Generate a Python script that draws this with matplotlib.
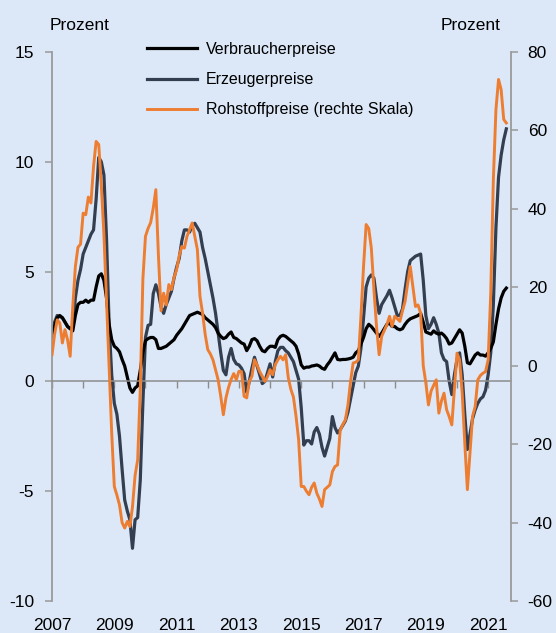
import numpy as np
import matplotlib
matplotlib.use("Agg")
import matplotlib.pyplot as plt
from matplotlib.ticker import MultipleLocator

plt.rcParams['font.family'] = ['Liberation Sans', 'DejaVu Sans']
plt.rcParams['axes.unicode_minus'] = False

# Monatswerte ab Januar 2007, Veränderung gegenüber Vorjahr in %
verbraucherpreise = [
    2.1, 2.5, 2.9, 3.0, 2.9, 2.7, 2.5, 2.4, 2.3, 3.0, 3.5, 3.6,
    3.6, 3.7, 3.6, 3.7, 3.7, 4.3, 4.8, 4.9, 4.6, 3.8, 2.6, 1.9,
    1.6, 1.5, 1.35, 1.0, 0.7, 0.2, -0.3, -0.5, -0.3, -0.2, 0.5, 1.3,
    1.85, 1.95, 2.0, 2.0, 1.9, 1.5, 1.5, 1.55, 1.6, 1.7, 1.8, 1.9,
    2.1, 2.25, 2.4, 2.6, 2.8, 3.0, 3.05, 3.1, 3.15, 3.1, 3.05, 2.9,
    2.8, 2.7, 2.6, 2.45, 2.2, 2.05, 1.95, 2.0, 2.15, 2.25, 2.0, 1.95,
    1.85, 1.75, 1.7, 1.4, 1.6, 1.9, 1.95, 1.85, 1.6, 1.4, 1.35, 1.5,
    1.6, 1.6, 1.55, 1.9, 2.05, 2.1, 2.05, 1.95, 1.85, 1.75, 1.6, 1.25,
    0.75, 0.6, 0.65, 0.65, 0.7, 0.72, 0.75, 0.7, 0.6, 0.55, 0.75, 0.9,
    1.1, 1.3, 1.0, 0.98, 1.0, 1.0, 1.02, 1.05, 1.1, 1.3, 1.4, 1.7,
    2.0, 2.4, 2.6, 2.5, 2.35, 2.2, 2.05, 2.2, 2.4, 2.6, 2.65, 2.5,
    2.5, 2.4, 2.35, 2.4, 2.6, 2.75, 2.85, 2.9, 2.95, 3.0, 3.1, 2.7,
    2.25, 2.2, 2.15, 2.3, 2.2, 2.15, 2.2, 2.1, 1.95, 1.7, 1.75, 1.95,
    2.15, 2.35, 2.2, 1.6, 0.85, 0.8, 1.0, 1.2, 1.3, 1.2, 1.2, 1.15,
    1.3, 1.5, 1.8, 2.6, 3.3, 3.8, 4.1, 4.25,
]

erzeugerpreise = [
    2.0, 2.7, 3.0, 2.95, 2.9, 2.7, 2.5, 2.4, 2.5, 3.8, 4.6, 5.1,
    5.8, 6.1, 6.4, 6.7, 6.9, 8.3, 10.2, 10.0, 9.4, 6.5, 2.6, 0.3,
    -1.0, -1.5, -2.5, -4.0, -5.4, -5.9, -6.3, -7.6, -6.3, -6.2, -4.5, -1.0,
    2.0, 2.55, 2.6, 4.0, 4.4, 4.0, 3.4, 3.1, 3.5, 3.8, 4.1, 4.7,
    5.2, 5.6, 6.4, 6.9, 6.9, 6.8, 7.1, 7.2, 7.0, 6.8, 6.1, 5.6,
    5.0, 4.4, 3.8, 3.1, 2.2, 1.3, 0.5, 0.3, 1.1, 1.5, 1.0, 0.8,
    0.75, 0.6, 0.35, -0.5, 0.0, 0.6, 1.1, 0.7, 0.3, -0.1, 0.0, 0.4,
    0.8, 0.2, 0.9, 1.4, 1.55, 1.55, 1.4, 1.3, 1.1, 0.9, 0.5, 0.1,
    -1.2, -2.9, -2.7, -2.7, -2.85, -2.3, -2.1, -2.4, -3.0, -3.4, -3.0, -2.6,
    -1.6, -2.1, -2.35, -2.2, -2.0, -1.8, -1.4, -0.8, -0.2, 0.4, 0.7, 1.5,
    2.9, 4.3, 4.7, 4.85, 4.7, 3.8, 3.1, 3.5, 3.7, 3.9, 4.15, 3.8,
    3.4, 3.0, 3.0, 3.3, 4.2, 5.0, 5.5, 5.6, 5.7, 5.75, 5.8, 4.6,
    3.0, 2.4, 2.6, 2.9, 2.6, 2.2, 1.3, 1.0, 0.9, 0.0, -0.6, 0.3,
    1.0, 1.3, 0.3, -1.5, -3.1, -2.4, -1.7, -1.3, -1.0, -0.8, -0.7, -0.4,
    0.3, 1.3, 3.5, 7.0, 9.3, 10.3, 11.0, 11.5,
]

rohstoffpreise = [
    2.8, 8.0, 11.7, 10.9, 5.8, 9.2, 6.6, 2.4, 15.0, 25.3, 30.2, 31.0,
    38.9, 38.5, 43.0, 41.5, 50.8, 57.2, 56.4, 46.0, 33.5, 16.8, -0.2, -17.2,
    -30.8, -33.0, -35.5, -40.0, -41.4, -39.7, -41.0, -36.0, -28.0, -24.0, -6.0, 22.0,
    33.0, 35.0, 36.5, 40.2, 44.9, 28.0, 14.0, 18.5, 15.5, 20.7, 19.4, 22.5,
    24.5, 28.0, 30.4, 30.0, 33.0, 34.7, 36.4, 33.0, 29.6, 17.7, 13.4, 8.0,
    4.1, 3.0, 1.5, -1.0, -3.6, -7.8, -12.5, -8.2, -5.5, -3.5, -2.0, -3.6,
    -1.4, -1.5, -7.8, -8.2, -4.0, -2.7, 1.5, 0.2, -1.5, -2.7, -4.0, -2.8,
    -1.0, -2.3, 0.3, 1.5, 2.4, 1.5, 2.8, -3.0, -6.0, -8.0, -12.9, -18.9,
    -30.8, -30.8, -32.0, -32.9, -31.0, -29.9, -32.5, -34.0, -35.9, -31.6, -31.0, -30.4,
    -27.0, -25.7, -25.3, -16.5, -15.0, -13.8, -10.0, -4.0, 0.7, 0.9, 1.5, 12.6,
    25.3, 36.0, 35.0, 30.0, 19.4, 10.0, 2.8, 7.5, 9.0, 10.5, 12.6, 10.0,
    12.6, 12.0, 11.3, 14.0, 16.4, 21.0, 25.3, 20.2, 15.1, 15.5, 13.4, 0.0,
    -4.4, -10.0, -6.5, -5.0, -3.6, -12.1, -9.0, -7.0, -11.2, -13.0, -15.1, -6.1,
    3.2, 1.5, -7.0, -19.7, -31.6, -22.3, -12.9, -10.4, -3.6, -2.5, -1.9, -1.5,
    1.5, 18.5, 47.4, 65.3, 73.0, 70.4, 62.8, 61.9,
]

jahre_labels = [2007, 2009, 2011, 2013, 2015, 2017, 2019, 2021]

# Zeitachse in Jahren (Monatsanfang)
x = 2007 + np.arange(len(verbraucherpreise)) / 12

bg = '#dce8f7'
grau = '#9a9a9a'

fig = plt.figure(figsize=(5.56, 6.33), dpi=100, facecolor=bg)
ax = fig.add_axes([52 / 556, 1 - 601 / 633, (511 - 52) / 556, (601 - 52) / 633])
ax.set_facecolor(bg)
ax2 = ax.twinx()
ax2.patch.set_visible(False)

l2, = ax.plot(x, erzeugerpreise, color='#333f50', lw=2.3, label='Erzeugerpreise')
l1, = ax.plot(x, verbraucherpreise, color='black', lw=2.3, label='Verbraucherpreise')
l3, = ax2.plot(x, rohstoffpreise, color='#ed7d31', lw=2.1, label='Rohstoffpreise (rechte Skala)')

ax.set_xlim(2007, 2021 + 8.8 / 12)
ax.set_ylim(-10, 15)
ax2.set_ylim(-60, 80)
ax.set_yticks(range(-10, 16, 5))
ax2.set_yticks(range(-60, 81, 20))

# Achsenlinien
for s in ['top', 'right']:
    ax.spines[s].set_visible(False)
for s in ['top', 'left', 'bottom']:
    ax2.spines[s].set_visible(False)
ax.spines['left'].set_color(grau)
ax.spines['left'].set_linewidth(1.3)
ax2.spines['right'].set_color(grau)
ax2.spines['right'].set_linewidth(1.3)

# Nulllinie mit Jahresstrichen
ax.spines['bottom'].set_position(('data', 0))
ax.spines['bottom'].set_color('#8c8c8c')
ax.spines['bottom'].set_linewidth(1.1)
ax.xaxis.set_major_locator(MultipleLocator(1))
ax.tick_params(axis='x', direction='out', length=5, width=1, color='#8c8c8c',
               labelbottom=False)

# Jahreszahlen am unteren Rand
sec = ax.secondary_xaxis('bottom')
sec.set_xticks(jahre_labels)
sec.set_xticklabels([str(j) for j in jahre_labels])
sec.spines['bottom'].set_visible(False)
sec.tick_params(axis='x', length=0, pad=12, labelsize=12.5)

ax.tick_params(axis='y', direction='out', length=5, width=1.1, color=grau,
               pad=8, labelsize=12.5)
ax2.tick_params(axis='y', direction='out', length=5, width=1.1, color=grau,
                pad=7, labelsize=12.5)

fig.text(80 / 556, 1 - 26 / 633, 'Prozent', ha='center', va='center', fontsize=12.5)
fig.text(471 / 556, 1 - 26 / 633, 'Prozent', ha='center', va='center', fontsize=12.5)

leg = ax2.legend(handles=[l1, l2, l3], loc='upper left',
                 bbox_to_anchor=(147 / 556, 1 - 42 / 633), bbox_transform=fig.transFigure,
                 frameon=False, fontsize=11.5, handlelength=3.1, handletextpad=0.6,
                 labelspacing=0.95, borderpad=0, borderaxespad=0)

fig.savefig('out.png', dpi=100, facecolor=bg)
